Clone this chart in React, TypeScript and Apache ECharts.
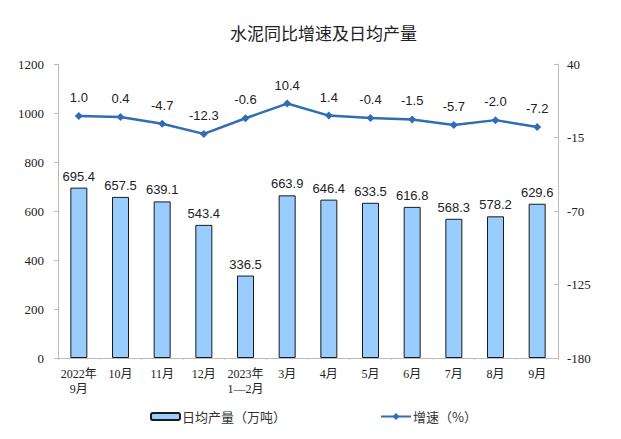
import React, { useEffect, useRef } from "react";
import * as echarts from "echarts";

const categories = ["2022年\n9月", "10月", "11月", "12月", "2023年\n1—2月", "3月", "4月", "5月", "6月", "7月", "8月", "9月"];
const output = [695.4, 657.5, 639.1, 543.4, 336.5, 663.9, 646.4, 633.5, 616.8, 568.3, 578.2, 629.6];
const growth = [1.0, 0.4, -4.7, -12.3, -0.6, 10.4, 1.4, -0.4, -1.5, -5.7, -2.0, -7.2];
const rightMin = -180;
const rightMax = 40;
const rightInterval = 55;

export default function App() {
  const ref = useRef<HTMLDivElement>(null);
  useEffect(() => {
    const chart = echarts.init(ref.current!, null, { renderer: "svg" });
    const serif = "'Liberation Serif', 'Times New Roman', 'Noto Sans CJK SC', serif";
    const sans = "'Liberation Sans', Arial, 'Noto Sans CJK SC', sans-serif";
    const cjk = "'Noto Sans CJK SC', sans-serif";
    chart.setOption({
      animation: false,
      title: {
        text: "水泥同比增速及日均产量",
        left: 217,
        top: 11,
        textStyle: { fontSize: 17, fontWeight: "normal", color: "#222", fontFamily: cjk },
      },
      legend: [
        {
          data: ["日均产量（万吨）"],
          left: 137,
          top: 397,
          itemWidth: 29,
          itemHeight: 7,
          itemGap: 4,
          textStyle: { fontSize: 13, color: "#333", fontFamily: cjk, padding: [0, 0, 0, -3] },
        },
        {
          data: ["增速（%）"],
          left: 367,
          top: 397,
          itemWidth: 30,
          itemHeight: 9,
          textStyle: { fontSize: 13, color: "#333", fontFamily: cjk, padding: [0, 0, 0, -3] },
        },
      ],
      grid: { left: 50, right: 55, top: 56, bottom: 73, containLabel: false },
      xAxis: {
        type: "category",
        data: categories,
        axisLine: { lineStyle: { color: "#bbb" } },
        axisTick: { show: true, length: 2, lineStyle: { color: "#ccc" } },
        axisLabel: { fontSize: 12, color: "#222", fontFamily: serif, margin: 8, lineHeight: 15, interval: 0 },
      },
      yAxis: [
        {
          type: "value",
          min: 0,
          max: 1200,
          interval: 200,
          splitLine: { show: false },
          axisLine: { show: true, lineStyle: { color: "#bbb" } },
          axisTick: { show: true, length: 4, lineStyle: { color: "#bbb" } },
          axisLabel: { fontSize: 13, color: "#222", fontFamily: serif, margin: 14, formatter: (v: number) => String(v) },
        },
        {
          type: "value",
          min: 0,
          max: rightMax - rightMin,
          interval: rightInterval,
          position: "right",
          splitLine: { show: false },
          axisLine: { show: true, lineStyle: { color: "#bbb" } },
          axisTick: { show: true, inside: true, length: 4, lineStyle: { color: "#bbb" } },
          axisLabel: {
            fontSize: 13,
            color: "#222",
            fontFamily: serif,
            margin: 9,
            formatter: (v: number) => String(Math.round(v + rightMin)),
          },
        },
      ],
      series: [
        {
          name: "日均产量（万吨）",
          type: "bar",
          data: output,
          barWidth: 17,
          itemStyle: { color: "#99CCFF", borderColor: "#1a1a1a", borderWidth: 1 },
          label: {
            show: true,
            position: "top",
            distance: 5,
            fontSize: 13,
            color: "#222",
            fontFamily: sans,
            formatter: (p: any) => Number(p.value).toFixed(1),
          },
        },
        {
          name: "增速（%）",
          type: "line",
          yAxisIndex: 1,
          data: growth.map((v) => v - rightMin),
          symbol: "diamond",
          symbolSize: 8,
          lineStyle: { color: "#2F6DB5", width: 2.5 },
          itemStyle: { color: "#2F6DB5" },
          label: {
            show: true,
            position: "top",
            distance: 8,
            fontSize: 13,
            color: "#222",
            fontFamily: sans,
            formatter: (p: any) => growth[p.dataIndex].toFixed(1),
          },
        },
      ],
    });
    return () => chart.dispose();
  }, []);
  return <div ref={ref} style={{ width: 605, height: 423 }} />;
}
